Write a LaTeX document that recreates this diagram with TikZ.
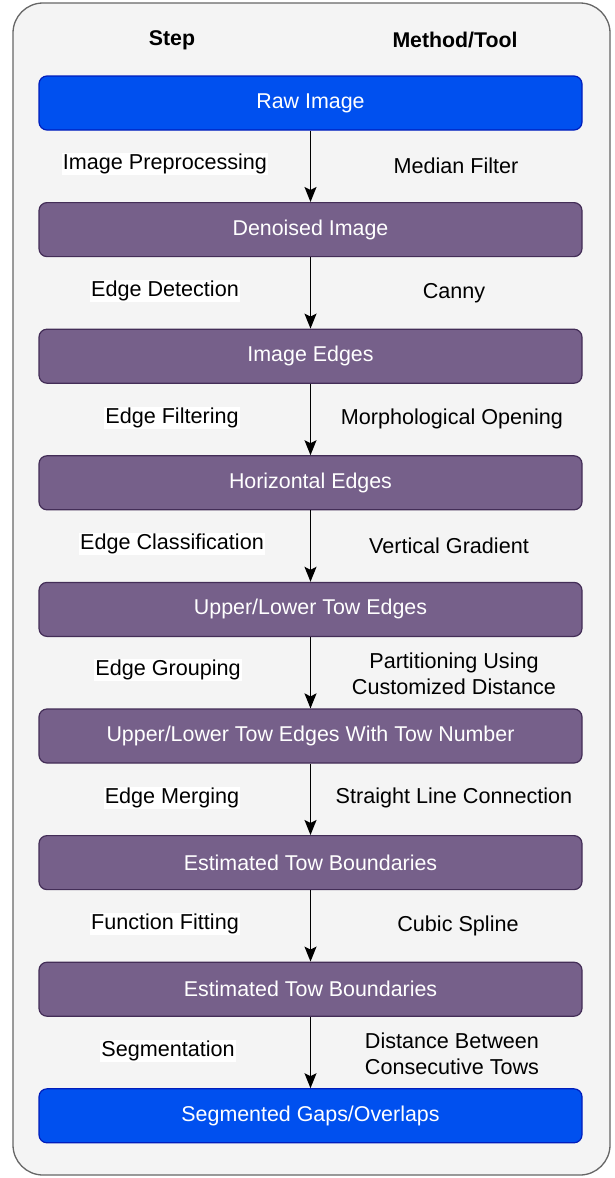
\documentclass[tikz,border=0pt]{standalone}
\usepackage{fontspec}
\setmainfont{Liberation Sans}
\usetikzlibrary{arrows.meta}
\definecolor{bgfill}{HTML}{F4F4F4}
\definecolor{bgline}{HTML}{666666}
\definecolor{bluefill}{HTML}{0050EF}
\definecolor{blueline}{HTML}{001DBC}
\definecolor{purpfill}{HTML}{76608A}
\definecolor{purpline}{HTML}{432D57}
\tikzset{
  stepbox/.style={draw=purpline, fill=purpfill, line width=1.2pt, rounded corners=8pt,
    minimum width=543pt, minimum height=54pt, text=white, font=\fontsize{21.4}{26}\selectfont, inner sep=0pt},
  endbox/.style={stepbox, draw=blueline, fill=bluefill},
  header/.style={font=\fontsize{21.3}{26}\selectfont\bfseries, inner sep=0pt},
  leftlab/.style={font=\fontsize{21.6}{26}\selectfont, fill=white, inner sep=1pt, align=center},
  rightlab/.style={font=\fontsize{21.6}{26}\selectfont, inner sep=0pt, align=center},
  flow/.style={line width=1.4pt, -{Stealth[length=15pt,width=12pt,inset=3pt]}}
}
\begin{document}
\begin{tikzpicture}[x=1pt,y=-1pt]
\useasboundingbox (0,0) rectangle (615,1178);
\draw[fill=bgfill, draw=bgline, line width=1.3pt, rounded corners=30pt] (13,3) rectangle (610,1175);
\node[header] (hstep) at (172,40) {Step};
\node[header] (hmeth) at (455,40) {Method/Tool};

\node[endbox] (b0) at (310.5,103) {Raw Image};
\node[stepbox] (b1) at (310.5,229.6) {Denoised Image};
\node[stepbox] (b2) at (310.5,356.2) {Image Edges};
\node[stepbox] (b3) at (310.5,482.8) {Horizontal Edges};
\node[stepbox] (b4) at (310.5,609.4) {Upper/Lower Tow Edges};
\node[stepbox] (b5) at (310.5,736) {Upper/Lower Tow Edges With Tow Number};
\node[stepbox] (b6) at (310.5,862.6) {Estimated Tow Boundaries};
\node[stepbox] (b7) at (310.5,989.2) {Estimated Tow Boundaries};
\node[endbox] (b8) at (310.5,1115.8) {Segmented Gaps/Overlaps};

\draw[flow] (b0.south) -- (b1.north);
\draw[flow] (b1.south) -- (b2.north);
\draw[flow] (b2.south) -- (b3.north);
\draw[flow] (b3.south) -- (b4.north);
\draw[flow] (b4.south) -- (b5.north);
\draw[flow] (b5.south) -- (b6.north);
\draw[flow] (b6.south) -- (b7.north);
\draw[flow] (b7.south) -- (b8.north);

\node[leftlab] (l1) at (165,164) {Image Preprocessing};
\node[leftlab] (l2) at (165,291) {Edge Detection};
\node[leftlab] (l3) at (172,418) {Edge Filtering};
\node[leftlab] (l4) at (172,544) {Edge Classification};
\node[leftlab] (l5) at (168,670) {Edge Grouping};
\node[leftlab] (l6) at (172,798) {Edge Merging};
\node[leftlab] (l7) at (165,924) {Function Fitting};
\node[leftlab] (l8) at (168,1051) {Segmentation};

\node[rightlab] (r1) at (456,166) {Median Filter};
\node[rightlab] (r2) at (454,293) {Canny};
\node[rightlab] (r3) at (452,419) {Morphological Opening};
\node[rightlab] (r4) at (449,546) {Vertical Gradient};
\node[rightlab] (r5) at (454,674) {Partitioning Using\\Customized Distance};
\node[rightlab] (r6) at (454,798) {Straight Line Connection};
\node[rightlab] (r7) at (458,926) {Cubic Spline};
\node[rightlab] (r8) at (452,1054) {Distance Between\\Consecutive Tows};
\end{tikzpicture}
\end{document}
